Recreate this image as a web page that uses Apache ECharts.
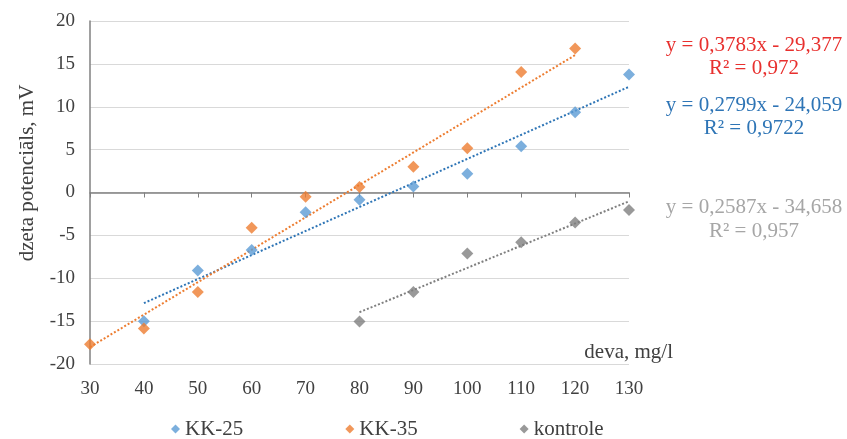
<!DOCTYPE html>
<html><head><meta charset="utf-8">
<script src="https://cdn.jsdelivr.net/npm/echarts@6/dist/echarts.min.js"></script>
<style>html,body{margin:0;padding:0;background:#fff}#c{width:847px;height:439px}</style>
</head><body><div id="c"></div>
<script>
var xKK25 = [40, 50, 60, 70, 80, 90, 100, 110, 120, 130];
var yKK25 = [-15.0, -9.1, -6.7, -2.3, -0.85, 0.7, 2.2, 5.4, 9.35, 13.75];
var xKK35 = [30, 40, 50, 60, 70, 80, 90, 100, 110, 120];
var yKK35 = [-17.7, -15.85, -11.6, -4.1, -0.5, 0.65, 3.0, 5.15, 14.05, 16.8];
var xKontrole = [80, 90, 100, 110, 120, 130];
var yKontrole = [-15.05, -11.6, -7.1, -5.8, -3.5, -2.05];
// trendline endpoints
var trendKK25X = [40, 130], trendKK25Y = [-12.9, 12.33];
var trendKK35X = [30, 120], trendKK35Y = [-18.03, 16.02];
var trendKontX = [80, 130], trendKontY = [-13.96, -1.03];
var seriesNames = ['KK-25', 'KK-35', 'kontrole'];
var eqTexts = [['y = 0,3783x - 29,377', 'R² = 0,972'], ['y = 0,2799x - 24,059', 'R² = 0,9722'], ['y = 0,2587x - 34,658', 'R² = 0,957']];
var xAxisTitle = 'deva, mg/l';
var yAxisTitle = 'dzeta potenciāls, mV';

function pairs(xs, ys){ return xs.map(function(x,i){ return [x, ys[i]]; }); }
var font = '"Liberation Serif", "Times New Roman", serif';
var cBlue = '#5b9bd5', cOrange = '#ed7d31', cGray = '#7f7f7f';
var eqColors = ['#e8302e', '#2e75b6', '#a6a6a6'];
var eqY = [[45, 68.5], [105, 128.5], [207.5, 231.5]];

var graphics = [
  {type: 'text', x: 673, y: 352, style: {text: xAxisTitle, font: '21px ' + font, fill: '#404040', align: 'right', verticalAlign: 'middle'}},
  {type: 'text', x: 27, y: 173, rotation: Math.PI/2, style: {text: yAxisTitle, font: '21px ' + font, fill: '#404040', align: 'center', verticalAlign: 'middle'}}
];
eqTexts.forEach(function(lines, i){
  lines.forEach(function(t, j){
    graphics.push({type: 'text', x: 754, y: eqY[i][j], style: {text: t, font: '21px ' + font, fill: eqColors[i], align: 'center', verticalAlign: 'middle'}});
  });
});

var chart = echarts.init(document.getElementById('c'));
chart.setOption({
  animation: false,
  textStyle: {fontFamily: font},
  grid: {left: 90, right: 218, top: 21, bottom: 75},
  xAxis: [{
    type: 'value', min: 30, max: 130, interval: 10,
    axisLine: {show: true, onZero: true, lineStyle: {color: '#808080', width: 1.5}},
    axisTick: {show: true, inside: false, length: 5, lineStyle: {color: '#808080'}},
    axisLabel: {show: false},
    splitLine: {show: false}
  }, {
    type: 'value', min: 30, max: 130, interval: 10, position: 'bottom',
    axisLine: {show: false, onZero: false},
    axisTick: {show: false},
    axisLabel: {show: true, color: '#404040', fontSize: 19, margin: 16, fontFamily: font},
    splitLine: {show: false}
  }],
  yAxis: {
    type: 'value', min: -20, max: 20, interval: 5,
    axisLine: {show: true, onZero: false, lineStyle: {color: '#808080', width: 1.5}},
    axisTick: {show: false},
    axisLabel: {color: '#404040', fontSize: 19, margin: 15, fontFamily: font},
    splitLine: {show: true, lineStyle: {color: '#d9d9d9', width: 1.2}}
  },
  legend: {
    top: 416, left: 171, padding: 0, itemGap: 102, itemWidth: 9, itemHeight: 9,
    icon: 'diamond',
    textStyle: {fontSize: 21, color: '#404040', fontFamily: font, lineHeight: 26},
    data: seriesNames
  },
  graphic: graphics,
  series: [
    {name: 'tr25', type: 'line', xAxisIndex: 0, data: pairs(trendKK25X, trendKK25Y), symbol: 'none', silent: true,
     lineStyle: {color: '#2e75b6', width: 2, type: [2, 2]}, z: 1},
    {name: 'tr35', type: 'line', xAxisIndex: 0, data: pairs(trendKK35X, trendKK35Y), symbol: 'none', silent: true,
     lineStyle: {color: cOrange, width: 2, type: [2, 2]}, z: 1},
    {name: 'trK', type: 'line', xAxisIndex: 0, data: pairs(trendKontX, trendKontY), symbol: 'none', silent: true,
     lineStyle: {color: cGray, width: 2, type: [2, 2]}, z: 1},
    {name: seriesNames[0], type: 'scatter', xAxisIndex: 0, data: pairs(xKK25, yKK25), symbol: 'diamond', symbolSize: 12,
     itemStyle: {color: cBlue}, z: 3},
    {name: seriesNames[1], type: 'scatter', xAxisIndex: 0, data: pairs(xKK35, yKK35), symbol: 'diamond', symbolSize: 12,
     itemStyle: {color: cOrange}, z: 3},
    {name: seriesNames[2], type: 'scatter', xAxisIndex: 0, data: pairs(xKontrole, yKontrole), symbol: 'diamond', symbolSize: 12,
     itemStyle: {color: cGray}, z: 3}
  ]
});
</script></body></html>
